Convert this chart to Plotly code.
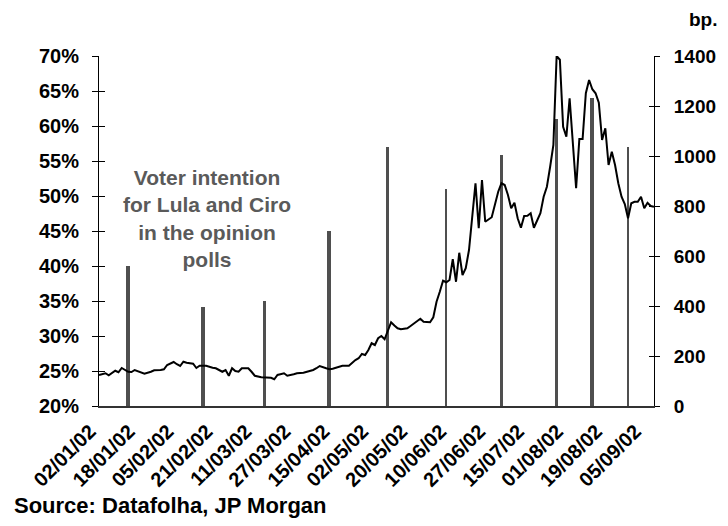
import plotly.graph_objects as go

# ---- data ----
TICK_LABELS = ["02/01/02", "18/01/02", "05/02/02", "21/02/02", "11/03/02", "27/03/02",
               "15/04/02", "02/05/02", "20/05/02", "10/06/02", "27/06/02", "15/07/02",
               "01/08/02", "19/08/02", "05/09/02"]
TICK_DAYS = [0, 12, 24, 36, 48, 60, 72, 84, 96, 108, 120, 132, 144, 156, 168]

# trading-day number (from 02/01/02) and spread in bp
SPREAD_DAY = [0, 2, 3, 5, 6, 7, 9, 10, 11, 13, 14, 16, 17, 19, 20, 21, 23, 24, 25, 26,
              27, 29, 30, 31, 33, 35, 36, 38, 39, 40, 41, 42, 43, 44, 46, 47, 48, 50, 51, 53,
              54, 55, 57, 58, 60, 61, 63, 65, 66, 67, 68, 70, 71, 72, 74, 75, 77, 78, 79, 80,
              81, 82, 83, 84, 85, 86, 87, 88, 89, 90, 91, 92, 93, 95, 96, 98, 99, 100, 102, 103,
              104, 105, 106, 107, 108, 109, 110, 111, 112, 113, 114, 116, 117, 118, 119, 121, 122, 123, 124, 125,
              126, 127, 128, 129, 130, 131, 132, 133, 134, 136, 137, 138, 139, 140, 141, 142, 143, 144, 145, 146,
              147, 148, 149, 150, 151, 152, 153, 154, 155, 156, 157, 158, 159, 160, 161, 162, 163, 164, 165, 166,
              167, 168, 169, 170, 171]
SPREAD_BP = [124, 131, 123, 141, 135, 152, 137, 136, 144, 135, 129, 137, 143, 144, 147, 164, 176, 167, 160, 177,
             173, 169, 152, 161, 161, 153, 151, 137, 144, 121, 151, 140, 137, 151, 151, 137, 121, 115, 115, 113,
             107, 124, 131, 121, 127, 131, 133, 139, 144, 151, 160, 151, 147, 149, 157, 161, 161, 173, 184, 191,
             208, 204, 224, 251, 244, 271, 280, 267, 304, 335, 322, 311, 307, 311, 320, 340, 349, 337, 335, 355,
             417, 457, 501, 495, 504, 587, 497, 613, 524, 551, 624, 891, 711, 904, 737, 755, 804, 857, 891, 884,
             844, 791, 813, 751, 713, 760, 761, 771, 713, 771, 837, 877, 957, 1044, 1400, 1385, 1117, 1077, 1231, 1037,
             871, 1068, 1068, 1251, 1304, 1267, 1251, 1213, 1064, 1111, 964, 1017, 964, 891, 837, 808, 751, 811, 817, 817,
             837, 791, 813, 800, 797]

# opinion polls: trading-day number and voter intention (%) for Lula and Ciro
POLL_DAY = [9, 32, 51, 71, 89, 107, 124, 141, 152, 163]
POLL_PCT = [40, 34.2, 35, 45, 57, 51, 55.8, 61, 64, 57]

# ---- styles ----
BAR_WIDTH = [1.2, 1.2, 1.2, 1.2, 0.6, 0.6, 0.9, 0.6, 1.3, 0.6]
FONT = "Arial, 'Liberation Sans', sans-serif"
BAR_COLOR = "#4f4f4f"
TXT_GRAY = "#5a5a5a"

fig = go.Figure()
fig.add_trace(go.Bar(x=POLL_DAY, y=POLL_PCT, width=BAR_WIDTH, marker_color=BAR_COLOR,
                     marker_line_width=0, yaxis="y", showlegend=False))
fig.add_trace(go.Scatter(x=SPREAD_DAY, y=SPREAD_BP, mode="lines",
                         line=dict(color="black", width=2), yaxis="y2", showlegend=False))
# empty traces carrying the inner half of the crossing tick marks
fig.add_trace(go.Scatter(x=[], y=[], yaxis="y3", showlegend=False))
fig.add_trace(go.Scatter(x=[], y=[], yaxis="y4", showlegend=False))

leftfont = dict(family=FONT, size=20, color="black", weight=700)
rightfont = dict(family=FONT, size=19, color="black", weight=700)

# the page body adds an 8px offset, so the figure is 8px smaller on each axis
fig.update_layout(
    width=720, height=518,
    margin=dict(l=91, r=62, t=48, b=120),
    paper_bgcolor="white", plot_bgcolor="white",
    bargap=0,
    xaxis=dict(range=[0, 171], tickmode="array", tickvals=TICK_DAYS, ticktext=TICK_LABELS,
               tickangle=-45, ticks="", showgrid=False, zeroline=False,
               showline=True, linecolor="#333333", linewidth=1.5, tickfont=leftfont,
               ticklabelshift=-9, ticklabelstandoff=4),
    yaxis=dict(range=[20, 70], dtick=5, ticksuffix="%", ticks="outside", ticklen=6,
               tickcolor="black", showgrid=False, zeroline=False, showline=True,
               linecolor="black", linewidth=1, tickfont=leftfont, ticklabelstandoff=9),
    yaxis3=dict(range=[20, 70], dtick=5, overlaying="y", side="left", ticks="inside",
                ticklen=6, tickcolor="black", showticklabels=False, showgrid=False,
                zeroline=False, showline=False),
    yaxis2=dict(range=[0, 1400], dtick=200, overlaying="y", side="right", ticks="outside",
                ticklen=5, tickcolor="black", showgrid=False, zeroline=False, showline=True,
                linecolor="black", linewidth=1, tickfont=rightfont, ticklabelstandoff=10),
    yaxis4=dict(range=[0, 1400], dtick=200, overlaying="y", side="right", ticks="inside",
                ticklen=5, tickcolor="black", showticklabels=False, showgrid=False,
                zeroline=False, showline=False),
    annotations=[
        dict(text="bp.", xref="paper", yref="paper", x=1.09, y=1.105, showarrow=False,
             xanchor="center", yanchor="middle", font=dict(family=FONT, size=19, color="black", weight=700)),
        dict(text="Voter intention<br>for Lula and Ciro<br>in the opinion<br>polls", xref="paper", yref="paper",
             x=0.194, y=0.536, showarrow=False, xanchor="center", yanchor="middle", align="center",
             font=dict(family=FONT, size=21, color=TXT_GRAY, weight=700)),
        dict(text="Source: Datafolha, JP Morgan", xref="paper", yref="paper", x=-0.157, y=-0.283,
             showarrow=False, xanchor="left", yanchor="middle",
             font=dict(family=FONT, size=22, color="black", weight=700)),
    ],
)

fig.write_html("out.html")
